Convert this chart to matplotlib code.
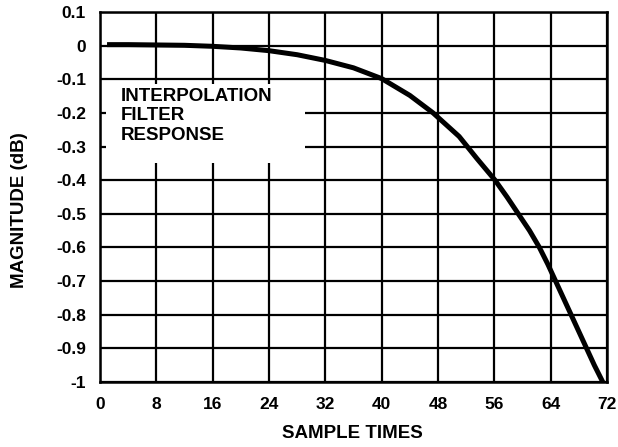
import matplotlib
matplotlib.use("Agg")
import matplotlib.pyplot as plt
from matplotlib.patches import Rectangle

# Data
sample_times = [1, 4, 8, 12, 16, 20, 24, 28, 32, 36, 40, 44, 47.3, 51.0, 53.5, 56.1, 57.8, 59.4, 61.0, 62.4, 63.6, 64.7, 65.8, 66.9, 68.0, 69.1, 70.2, 71.4]
magnitude_db = [0.003, 0.003, 0.002, 0.001, -0.002, -0.007, -0.015, -0.027, -0.044, -0.066, -0.098, -0.148, -0.2, -0.27, -0.335, -0.4, -0.45, -0.5, -0.55, -0.6, -0.65, -0.7, -0.75, -0.8, -0.85, -0.9, -0.95, -1.0]

x_ticks = [0, 8, 16, 24, 32, 40, 48, 56, 64, 72]
y_ticks = [0.1, 0, -0.1, -0.2, -0.3, -0.4, -0.5, -0.6, -0.7, -0.8, -0.9, -1]
y_tick_labels = ["0.1", "0", "-0.1", "-0.2", "-0.3", "-0.4", "-0.5", "-0.6", "-0.7", "-0.8", "-0.9", "-1"]

plt.rcParams['font.family'] = ['Liberation Sans', 'DejaVu Sans']
plt.rcParams['font.weight'] = 'bold'

fig = plt.figure(figsize=(6.18, 4.47), dpi=100)
ax = fig.add_axes([100/618, 65/447, 507/618, 370/447])

ax.set_xlim(0, 72)
ax.set_ylim(-1, 0.1)
ax.set_xticks(x_ticks)
ax.set_xticklabels([str(t) for t in x_ticks])
ax.set_yticks(y_ticks)
ax.set_yticklabels(y_tick_labels)

ax.grid(True, color='black', linewidth=1.6)
ax.set_axisbelow(True)
for s in ax.spines.values():
    s.set_linewidth(1.8)
    s.set_color('black')

ax.tick_params(axis='both', length=0, labelsize=12.5)
ax.tick_params(axis='y', pad=10)
ax.tick_params(axis='x', pad=10.5)
for lab in ax.get_xticklabels() + ax.get_yticklabels():
    lab.set_fontweight('bold')

# white box behind the annotation
ax.add_patch(Rectangle((0.85, -0.35), 28.3, 0.235, facecolor='white', edgecolor='none', zorder=2))
ax.text(3.0, -0.126, "INTERPOLATION\nFILTER\nRESPONSE", fontsize=13.5, fontweight='bold',
        va='top', ha='left', linespacing=1.18, zorder=3)

ax.plot(sample_times, magnitude_db, color='black', linewidth=3.6, solid_capstyle='butt',
        solid_joinstyle='round', zorder=4)

ax.set_xlabel("SAMPLE TIMES", fontsize=13.5, fontweight='bold')
ax.xaxis.set_label_coords(0.4985, -(434 - 382) / 370)
ax.set_ylabel("MAGNITUDE (dB)", fontsize=13.5, fontweight='bold')
ax.yaxis.set_label_coords(-(100 - 19.5) / 507, (382 - 210) / 370)
ax.xaxis.label.set_va('center')
ax.yaxis.label.set_va('center')

fig.savefig("out.png", dpi=100)
